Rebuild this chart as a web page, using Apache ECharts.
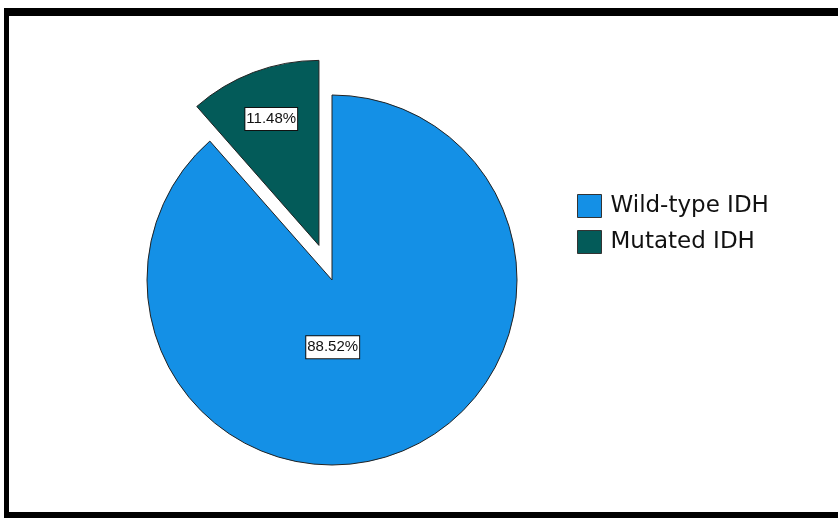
<!DOCTYPE html>
<html>
<head>
<meta charset="utf-8">
<script src="https://cdn.jsdelivr.net/npm/echarts@6/dist/echarts.min.js"></script>
<style>
  html, body { margin: 0; padding: 0; background: #fff; }
  #wrap { position: relative; width: 838px; height: 524px; overflow: hidden; }
  #chart { position: absolute; left: 0; top: 0; width: 838px; height: 524px; }
  #frame {
    position: absolute; left: 4px; top: 8px; width: 900px; height: 510px;
    border-top: 8px solid #000; border-left: 5px solid #000; border-bottom: 6px solid #000;
    box-sizing: border-box; pointer-events: none;
  }
</style>
</head>
<body>
<div id="wrap">
  <div id="chart"></div>
  <div id="frame"></div>
</div>
<script>
// IDH status breakdown (percent of cases)
const categories = ['Wild-type IDH', 'Mutated IDH'];
const percents = [88.52, 11.48];
const exploded = [false, true];

const sliceColors = ['#1490E6', '#035B59'];
// label nudges relative to the default inside position
const labelNudge = [[-33, -22], [-14, -37]];

const chart = echarts.init(document.getElementById('chart'), null, { renderer: 'canvas' });

chart.setOption({
  animation: false,
  backgroundColor: '#ffffff',
  legend: {
    orient: 'vertical',
    left: 577,
    top: 194,
    padding: 0,
    itemWidth: 24,
    itemHeight: 23,
    itemGap: 12,
    icon: 'rect',
    selectedMode: false,
    data: categories,
    itemStyle: { borderColor: '#333', borderWidth: 1 },
    textStyle: { fontFamily: 'DejaVu Sans, sans-serif', fontSize: 23, color: '#111', padding: [0, 0, 0, 4] }
  },
  series: [{
    type: 'pie',
    center: [332, 280],
    radius: 185,
    startAngle: 90,
    clockwise: true,
    selectedMode: 'multiple',
    selectedOffset: 37,
    avoidLabelOverlap: false,
    emphasis: { disabled: true },
    itemStyle: { borderColor: '#222', borderWidth: 1 },
    label: {
      show: true,
      position: 'inside',
      formatter: p => p.value.toFixed(2) + '%',
      fontFamily: 'Liberation Sans, Arial, sans-serif',
      fontSize: 15,
      color: '#111',
      backgroundColor: '#fff',
      borderColor: '#111',
      borderWidth: 1,
      padding: [4, 1, 3, 1]
    },
    labelLine: { show: false },
    labelLayout: p => ({ dx: labelNudge[p.dataIndex][0], dy: labelNudge[p.dataIndex][1] }),
    data: categories.map((name, i) => ({
      name: name,
      value: percents[i],
      selected: exploded[i],
      itemStyle: { color: sliceColors[i] }
    }))
  }]
});
</script>
</body>
</html>
